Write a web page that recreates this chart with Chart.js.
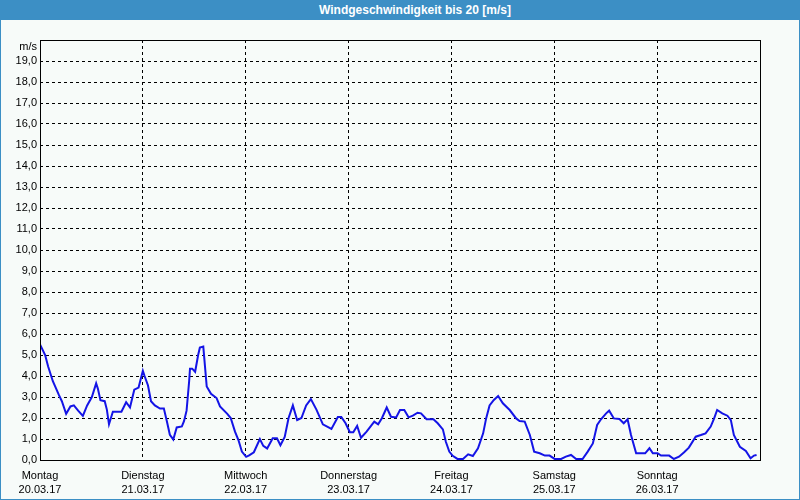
<!DOCTYPE html>
<html>
<head>
<meta charset="utf-8">
<script src="https://cdn.jsdelivr.net/npm/chart.js@4"></script>
<style>
  body { margin: 0; background: #f7fbf9; }
  #wrap { position: relative; width: 800px; height: 500px; overflow: hidden; }
  #head {
    position: absolute; left: 0; top: 0; width: 800px; height: 20px;
    background: #3c8fc5; color: #fff; text-align: center;
    font: bold 12px "Liberation Sans", Arial, sans-serif; line-height: 20px;
    box-sizing: border-box; padding-left: 30px;
  }
  #frame {
    position: absolute; left: 0; top: 0; width: 800px; height: 500px;
    box-sizing: border-box; border: 1px solid #3c8fc5; border-top: none;
    pointer-events: none;
  }
  canvas { position: absolute; left: 0; top: 0; }
</style>
</head>
<body>
<div id="wrap">
  <canvas id="myChart" width="800" height="500"></canvas>
  <div id="head">Windgeschwindigkeit bis 20 [m/s]</div>
  <div id="frame"></div>
</div>
<script>
// hours since Montag 00:00 and wind speed in m/s
const hours = [
  0, 1.2, 1.9, 3.0, 4.4, 5.1, 6.1, 7.1, 7.9, 8.9,
  10.0, 11.0, 12.1, 13.1, 13.5, 14.1, 15.1, 15.6, 16.1, 17.0,
  18.2, 19.0, 20.1, 21.0, 22.0, 23.0, 24.0, 24.4, 25.2, 25.9,
  26.8, 28.0, 28.9, 29.6, 30.3, 31.1, 31.9, 33.1, 33.6, 34.2,
  34.8, 35.0, 35.5, 36.2, 36.9, 37.3, 38.1, 38.9, 39.9, 41.2,
  42.0, 43.7, 44.5, 45.5, 46.3, 47.1, 48.1, 48.8, 49.9, 51.3,
  52.1, 53.0, 54.3, 55.3, 56.1, 57.1, 58.0, 59.0, 60.0, 61.0,
  62.1, 63.2, 64.5, 66.0, 68.0, 69.5, 70.3, 71.3, 72.3, 73.1,
  74.0, 74.9, 76.2, 78.0, 78.9, 79.8, 80.9, 81.9, 83.1, 84.0,
  85.0, 86.0, 87.0, 88.1, 88.9, 90.2, 91.8, 92.8, 94.0, 94.7,
  95.5, 96.3, 97.4, 98.7, 99.9, 101.0, 102.2, 103.4, 104.1, 104.9,
  105.9, 106.9, 108.0, 109.6, 111.1, 111.9, 113.1, 114.3, 115.3, 116.6,
  117.8, 118.9, 120.1, 121.6, 122.7, 123.9, 125.1, 126.6, 127.8, 129.0,
  130.0, 130.9, 132.1, 132.8, 133.9, 135.2, 136.2, 137.1, 137.9, 139.1,
  141.2, 142.2, 143.0, 144.1, 144.9, 146.8, 147.9, 149.1, 150.3, 151.4,
  153.0, 154.2, 155.3, 156.5, 157.3, 158.0, 159.2, 160.4, 161.2, 161.9,
  163.3, 164.7, 165.8, 166.6, 167.2
];
const speeds = [
  5.5, 5.0, 4.45, 3.75, 3.1, 2.8, 2.2, 2.55, 2.6, 2.35,
  2.1, 2.6, 3.0, 3.65, 3.4, 2.85, 2.8, 2.4, 1.7, 2.3,
  2.3, 2.3, 2.75, 2.5, 3.35, 3.45, 4.25, 4.0, 3.55, 2.8,
  2.6, 2.45, 2.45, 1.85, 1.2, 0.98, 1.55, 1.6, 1.85, 2.35,
  3.75, 4.35, 4.35, 4.2, 5.0, 5.35, 5.4, 3.5, 3.15, 2.95,
  2.55, 2.2, 2.0, 1.35, 0.95, 0.4, 0.15, 0.22, 0.37, 1.0,
  0.67, 0.55, 1.03, 1.03, 0.7, 1.1, 2.0, 2.6, 1.9, 2.0,
  2.6, 2.9, 2.4, 1.7, 1.48, 2.05, 2.05, 1.75, 1.32, 1.32,
  1.62, 1.06, 1.35, 1.83, 1.7, 2.0, 2.5, 2.06, 2.03, 2.38,
  2.38, 2.03, 2.11, 2.25, 2.22, 1.94, 1.94, 1.75, 1.46, 0.87,
  0.4, 0.2, 0.05, 0.05, 0.27, 0.19, 0.56, 1.27, 1.98, 2.6,
  2.86, 3.05, 2.7, 2.38, 1.98, 1.86, 1.83, 1.19, 0.4, 0.32,
  0.21, 0.21, 0.05, 0.05, 0.16, 0.24, 0.05, 0.05, 0.4, 0.79,
  1.67, 1.94, 2.22, 2.35, 1.98, 1.95, 1.75, 1.94, 1.19, 0.32,
  0.32, 0.56, 0.32, 0.32, 0.21, 0.21, 0.05, 0.16, 0.37, 0.59,
  1.11, 1.19, 1.27, 1.59, 1.98, 2.38, 2.22, 2.11, 1.9, 1.19,
  0.63, 0.43, 0.08, 0.21, 0.24
];
const dayNames = ['Montag', 'Dienstag', 'Mittwoch', 'Donnerstag', 'Freitag', 'Samstag', 'Sonntag'];
const dates = ['20.03.17', '21.03.17', '22.03.17', '23.03.17', '24.03.17', '25.03.17', '26.03.17'];
const unitLabel = 'm/s';

Chart.defaults.font.family = '"Liberation Sans", Arial, sans-serif';
Chart.defaults.font.size = 11;
Chart.defaults.color = '#000';

// solid frame round the plot and the unit label above the y axis
const framePlugin = {
  id: 'framePlugin',
  afterDraw(chart) {
    const ctx = chart.ctx;
    const a = chart.chartArea;
    ctx.save();
    ctx.strokeStyle = '#000';
    ctx.lineWidth = 1;
    ctx.strokeRect(Math.round(a.left) + 0.5, Math.round(a.top) + 0.5,
      Math.round(a.right - a.left), Math.round(a.bottom - a.top));
    ctx.fillStyle = '#000';
    ctx.font = '11px "Liberation Sans", Arial, sans-serif';
    ctx.textAlign = 'right';
    ctx.textBaseline = 'middle';
    ctx.fillText(unitLabel, a.left - 3, a.top + 7);
    ctx.restore();
  }
};

const myChart = document.getElementById('myChart');
new Chart(myChart, {
  type: 'line',
  data: {
    datasets: [{
      label: 'Wind',
      data: hours.map((h, i) => ({ x: h, y: speeds[i] })),
      borderColor: '#1414e6',
      borderWidth: 2,
      pointRadius: 0,
      tension: 0,
      fill: false
    }]
  },
  options: {
    responsive: false,
    animation: false,
    layout: { padding: { left: 0, top: 40, right: 40, bottom: 0 } },
    plugins: { legend: { display: false }, tooltip: { enabled: false } },
    scales: {
      x: {
        type: 'linear',
        min: 0,
        max: 168,
        afterBuildTicks: (scale) => {
          scale.ticks = dayNames.map((d, i) => ({ value: i * 24 }));
        },
        afterFit: (scale) => { scale.height = 40; },
        ticks: {
          autoSkip: false,
          maxRotation: 0,
          padding: 9,
          font: { lineHeight: 1.25 },
          callback: (value) => [dayNames[value / 24], dates[value / 24]]
        },
        grid: { color: '#000', lineWidth: 1, drawTicks: false },
        border: { display: false, dash: [3, 3] }
      },
      y: {
        min: 0,
        max: 20,
        afterFit: (scale) => { scale.width = 40; },
        ticks: {
          stepSize: 1,
          padding: 3,
          callback: (value) => value >= 20 ? '' : value.toFixed(1).replace('.', ',')
        },
        grid: { color: '#000', lineWidth: 1, drawTicks: false },
        border: { display: false, dash: [3, 3] }
      }
    }
  },
  plugins: [framePlugin]
});
</script>
</body>
</html>
